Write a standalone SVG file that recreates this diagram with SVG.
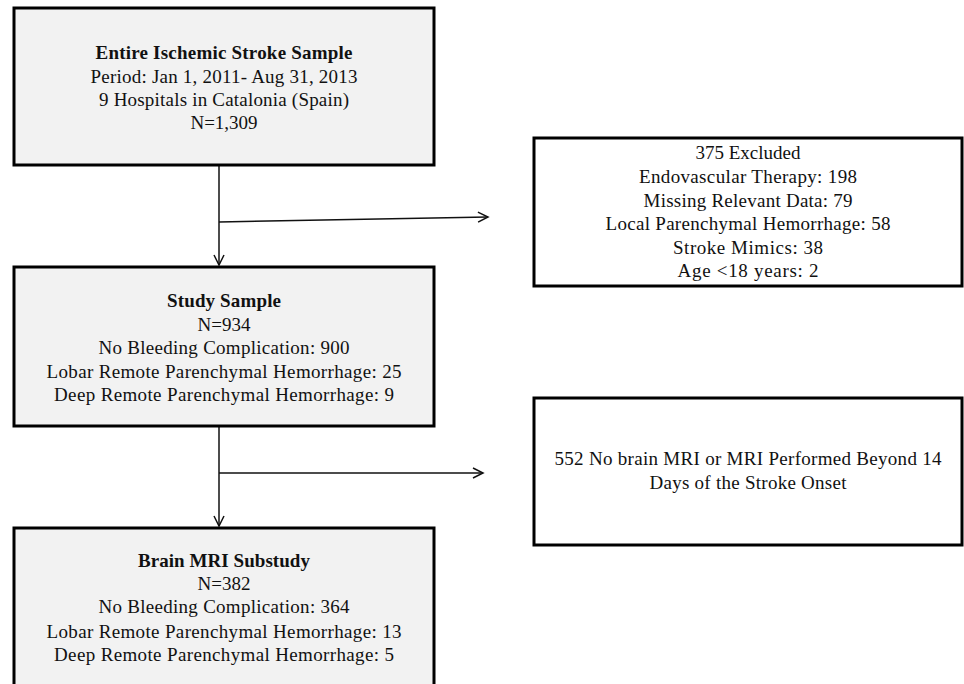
<svg xmlns="http://www.w3.org/2000/svg" width="964" height="684" viewBox="0 0 964 684">
<defs>
<style>
.box{stroke:#000;stroke-width:3}
.grey{fill:#f2f2f2}
.white{fill:#fff}
text{font-family:"Liberation Serif","Times New Roman",serif;font-size:19px;fill:#111;text-anchor:middle}
.b{font-weight:bold}
.conn{stroke:#111;stroke-width:1.5;fill:none}
</style>
<marker id="arr" markerUnits="userSpaceOnUse" markerWidth="14" markerHeight="14" refX="11" refY="6" orient="auto" viewBox="0 0 14 12">
<path d="M1,1 L11,6 L1,11" fill="none" stroke="#111" stroke-width="1.5"/>
</marker>
</defs>
<rect width="964" height="684" fill="#fff"/>
<g id="connectors">
<line class="conn" x1="219" y1="165" x2="219" y2="265" marker-end="url(#arr)"/>
<line class="conn" x1="219" y1="222" x2="488" y2="217" marker-end="url(#arr)"/>
<line class="conn" x1="219" y1="426" x2="219" y2="526" marker-end="url(#arr)"/>
<line class="conn" x1="219" y1="473" x2="483" y2="473" marker-end="url(#arr)"/>
</g>
<g id="entire-sample">
<rect class="box grey" x="14" y="8" width="420" height="157"/>
<text class="b" x="224" y="59" textLength="257" lengthAdjust="spacing">Entire Ischemic Stroke Sample</text>
<text x="224" y="83" textLength="267" lengthAdjust="spacing">Period: Jan 1, 2011- Aug 31, 2013</text>
<text x="224" y="106" textLength="250" lengthAdjust="spacing">9 Hospitals in Catalonia (Spain)</text>
<text x="224" y="129">N=1,309</text>
</g>
<g id="excluded">
<rect class="box white" x="534" y="138" width="428" height="148"/>
<text x="748" y="159">375 Excluded</text>
<text x="748" y="183" textLength="218" lengthAdjust="spacing">Endovascular Therapy: 198</text>
<text x="748" y="207" textLength="209" lengthAdjust="spacing">Missing Relevant Data: 79</text>
<text x="748" y="230" textLength="285" lengthAdjust="spacing">Local Parenchymal Hemorrhage: 58</text>
<text x="748" y="254" textLength="150" lengthAdjust="spacing">Stroke Mimics: 38</text>
<text x="748" y="277" textLength="141" lengthAdjust="spacing">Age &lt;18 years: 2</text>
</g>
<g id="study-sample">
<rect class="box grey" x="14" y="267" width="420" height="159"/>
<text class="b" x="224" y="307" textLength="114" lengthAdjust="spacing">Study Sample</text>
<text x="224" y="331">N=934</text>
<text x="224" y="354" textLength="251" lengthAdjust="spacing">No Bleeding Complication: 900</text>
<text x="224" y="378" textLength="355" lengthAdjust="spacing">Lobar Remote Parenchymal Hemorrhage: 25</text>
<text x="224" y="401" textLength="340" lengthAdjust="spacing">Deep Remote Parenchymal Hemorrhage: 9</text>
</g>
<g id="no-mri">
<rect class="box white" x="534" y="398" width="428" height="147"/>
<text x="748" y="465" textLength="387" lengthAdjust="spacing">552 No brain MRI or MRI Performed Beyond 14</text>
<text x="748" y="489" textLength="197" lengthAdjust="spacing">Days of the Stroke Onset</text>
</g>
<g id="mri-substudy">
<rect class="box grey" x="14" y="528" width="420" height="170"/>
<text class="b" x="224" y="567" textLength="172" lengthAdjust="spacing">Brain MRI Substudy</text>
<text x="224" y="590">N=382</text>
<text x="224" y="613" textLength="251" lengthAdjust="spacing">No Bleeding Complication: 364</text>
<text x="224" y="638" textLength="355" lengthAdjust="spacing">Lobar Remote Parenchymal Hemorrhage: 13</text>
<text x="224" y="661" textLength="340" lengthAdjust="spacing">Deep Remote Parenchymal Hemorrhage: 5</text>
</g>
</svg>
